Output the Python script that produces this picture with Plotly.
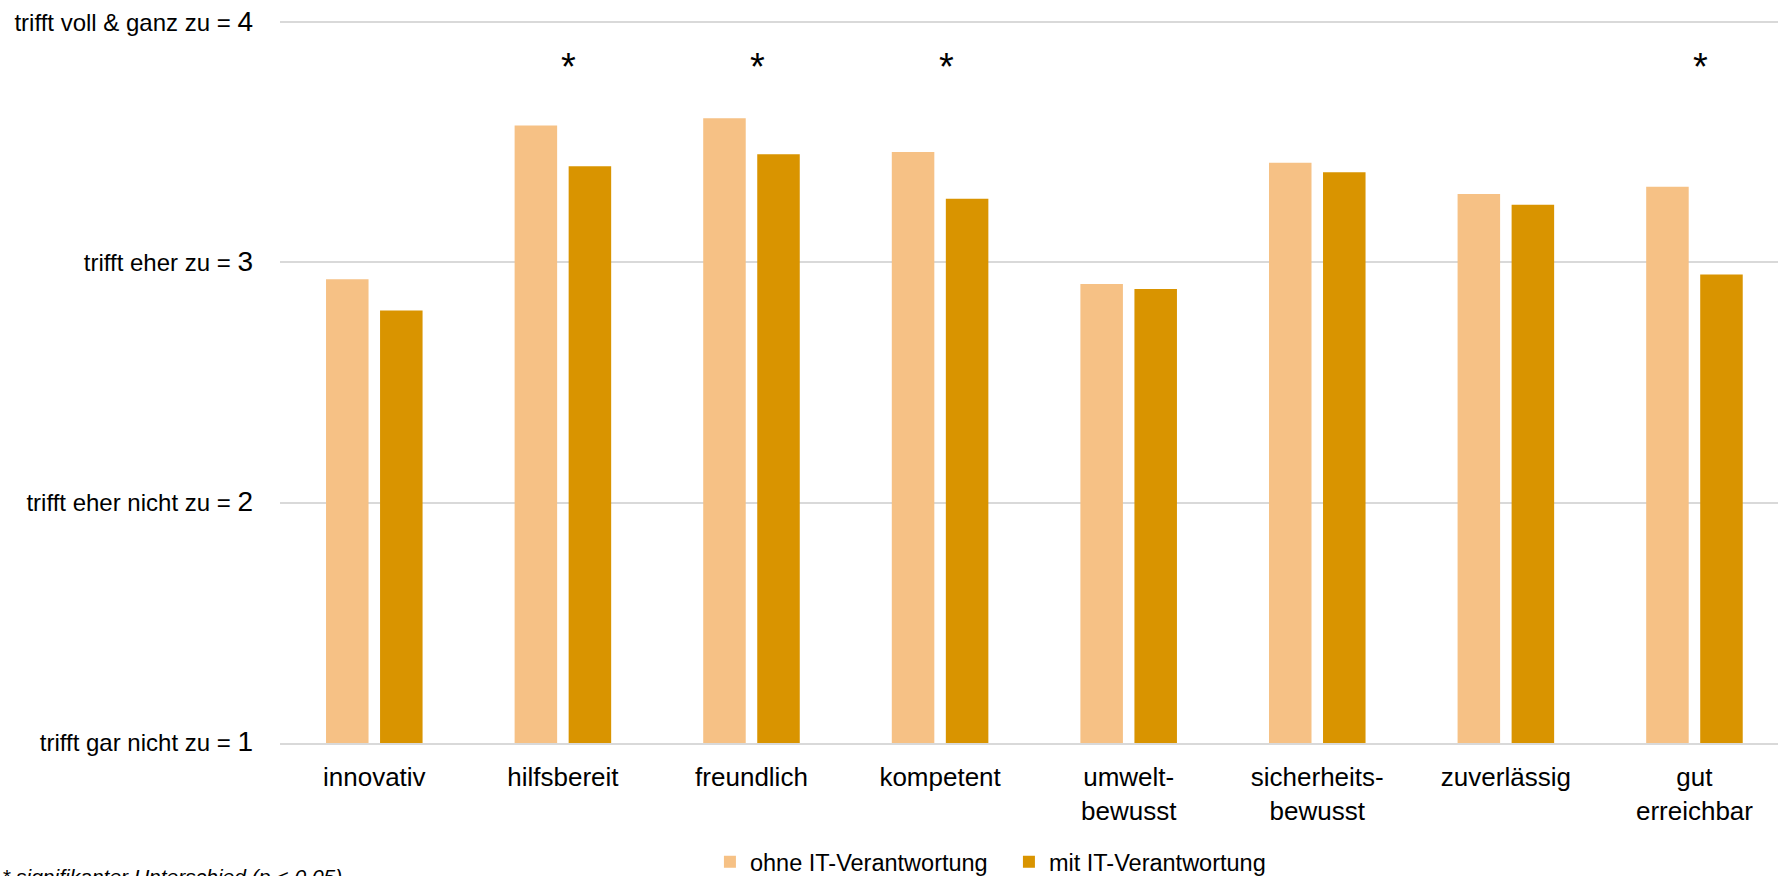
import plotly.graph_objects as go

categories = ["innovativ", "hilfsbereit", "freundlich", "kompetent",
              "umwelt-<br>bewusst", "sicherheits-<br>bewusst", "zuverlässig", "gut<br>erreichbar"]
ohne_it = [2.93, 3.57, 3.60, 3.46, 2.91, 3.415, 3.285, 3.315]
mit_it = [2.80, 3.40, 3.45, 3.265, 2.89, 3.375, 3.24, 2.95]
significant = ["hilfsbereit", "freundlich", "kompetent", "gut<br>erreichbar"]

tick_vals = [1, 2, 3, 4]
tick_texts = ["trifft gar nicht zu = ", "trifft eher nicht zu = ",
              "trifft eher zu = ", "trifft voll & ganz zu = "]

LIGHT = "#F6C185"
DARK = "#D99400"
FONT = "Liberation Sans, Arial, sans-serif"

fig = go.Figure()
fig.add_trace(go.Bar(x=categories, y=ohne_it, name="ohne IT-Verantwortung",
                     marker=dict(color=LIGHT, line=dict(width=0))))
fig.add_trace(go.Bar(x=categories, y=mit_it, name="mit IT-Verantwortung",
                     marker=dict(color=DARK, line=dict(width=0))))

ticktext = [f"{t}<span style='font-size:28px'>{v}</span>" for t, v in zip(tick_texts, tick_vals)]

annotations = []
for c in significant:
    annotations.append(dict(x=c, y=3.83, xref="x", yref="y", text="*", showarrow=False,
                            xshift=6, yshift=-4, font=dict(size=38, family=FONT, color="black")))
annotations.append(dict(x=0, y=-0.166, xref="paper", yref="paper",
                        text="<i>* signifikanter Unterschied (p &lt; 0,05)</i>",
                        showarrow=False, xanchor="left", yanchor="top", xshift=-280,
                        font=dict(size=21, family=FONT, color="black")))

fig.update_layout(
    width=1778, height=876,
    margin=dict(l=280, r=0, t=21, b=133, autoexpand=False),
    paper_bgcolor="white", plot_bgcolor="white",
    barmode="group", bargap=0.427, bargroupgap=0.213,
    font=dict(family=FONT, color="black"),
    showlegend=True,
    legend=dict(orientation="h", x=0.287, xanchor="left",
                yref="container", y=0.016, yanchor="middle",
                entrywidth=254, entrywidthmode="pixels",
                font=dict(size=23.5, family=FONT, color="black"), traceorder="normal"),
    annotations=annotations,
)
fig.update_yaxes(range=[1, 4.005], tickvals=tick_vals, ticktext=ticktext,
                 showgrid=True, gridcolor="#D9D9D9", gridwidth=1.5, zeroline=False,
                 showline=False, ticks="", ticklabelstandoff=26,
                 tickfont=dict(size=24, family=FONT, color="black"))
fig.update_xaxes(range=[-0.5, 7.443], showline=True, linecolor="#D9D9D9", linewidth=1.5, ticks="",
                 tickfont=dict(size=26, family=FONT, color="black"), ticklabelstandoff=10)

fig.write_html("out.html", config={"displayModeBar": False},
               post_script="document.body.style.margin='0';")
